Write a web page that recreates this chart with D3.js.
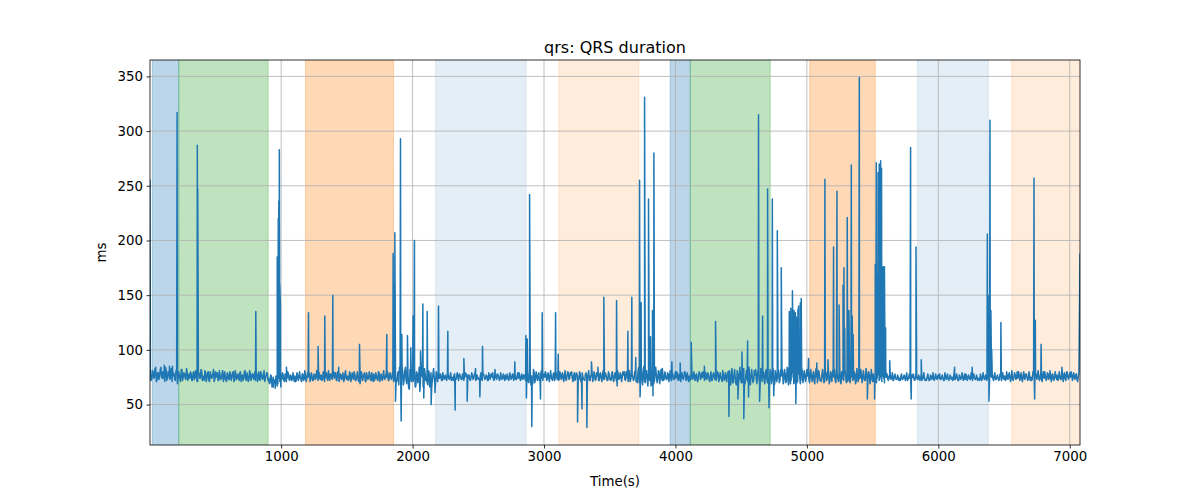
<!DOCTYPE html>
<html>
<head>
<meta charset="utf-8">
<script src="https://cdn.jsdelivr.net/npm/d3@7"></script>
<style>
  body { margin: 0; background: #fff; }
  text { font-family: "DejaVu Sans", sans-serif; }
</style>
</head>
<body>
<script>
let width = 1200, height = 500;
let margin = {left: 150, right: 120, top: 60, bottom: 55};

// baseline QRS values, one every 10 s starting at t = 5
let baseRows = [
  "78 73 80 75 82 72 79 76 84 74", "77 71 81 75 79 73 83 76 78 72",
  "80 74 77 71 82 75 78 73 79 76", "74 78 72 80 75 77 71 79 74 81",
  "76 72 79 74 80 71 77 75 82 73", "75 79 72 77 74 81 73 76 71 78",
  "73 77 75 80 72 78 74 76 79 71", "77 74 81 72 76 73 79 75 78 74",
  "72 78 75 73 80 74 77 71 76 79", "74 70 76 68 73 71 75 69 74 72",
  "73 77 71 75 74 78 72 76 73 75", "76 72 77 74 75 71 78 73 76 74",
  "75 78 73 76 72 77 74 79 73 75", "77 73 76 74 79 72 75 78 74 76",
  "74 79 72 76 73 77 75 71 78 74", "76 73 78 74 75 80 72 76 74 77",
  "73 77 75 79 71 76 74 78 72 75", "78 74 76 72 79 75 73 77 74 76",
  "75 72 78 74 76 71 79 73 77 68", "82 66 79 72 84 69 77 64 80 73",
  "71 83 67 78 74 62 81 75 70 79", "76 68 80 73 65 78 74 71 77 75",
  "74 77 72 76 75 73 78 74 76 72", "75 77 73 76 74 78 75 73 76 74",
  "76 74 77 73 75 76 74 78 73 75", "74 76 73 77 75 74 76 72 75 77",
  "75 73 76 74 78 75 73 76 74 75", "77 74 75 73 76 74 77 75 73 76",
  "74 76 73 75 77 74 72 78 70 81", "76 69 79 73 77 75 72 78 74 76",
  "75 78 73 77 74 76 72 79 74 77", "76 73 78 75 74 77 73 76 79 74",
  "77 74 76 72 79 75 73 78 74 76", "73 78 75 77 72 76 80 74 77 73",
  "76 72 78 74 77 73 79 75 72 78", "74 79 73 76 75 72 78 74 77 75",
  "77 73 80 74 76 71 79 75 73 78", "75 80 70 78 73 82 71 77 74 79",
  "72 81 74 69 79 76 73 80 75 74", "77 74 76 73 78 75 74 77 73 76",
  "74 78 75 72 77 74 76 79 73 75", "76 73 78 75 74 77 72 76 78 74",
  "75 77 73 76 79 74 75 72 77 76", "73 76 78 74 75 71 77 75 73 78",
  "76 72 79 70 77 74 68 78 73 76", "74 79 71 76 73 78 70 77 75 72",
  "77 73 80 74 71 78 75 72 79 74", "75 70 78 73 81 69 76 74 79 72",
  "76 80 72 78 71 82 74 69 79 75", "73 81 70 78 76 72 80 74 77 75",
  "76 73 78 74 77 72 79 75 74 77", "73 78 75 71 79 74 77 72 76 80",
  "75 72 79 74 77 71 80 73 78 75", "77 74 72 79 75 73 78 71 76 74",
  "74 78 73 76 72 79 75 77 73 76", "78 72 80 74 77 73 75 76 74 75",
  "75 73 76 74 75 72 76 74 73 75", "74 76 73 75 74 76 72 75 74 73",
  "75 73 74 76 73 75 74 72 75 74", "73 75 74 72 76 74 73 75 74 76",
  "74 73 75 74 72 75 76 73 74 75", "75 74 73 76 74 72 75 74 76 73",
  "73 76 74 75 73 74 77 74 73 75", "74 72 75 74 76 73 75 74 72 76",
  "75 74 76 73 75 74 73 76 74 75", "76 73 75 77 74 76 73 75 77 74",
  "74 77 75 73 76 74 78 75 73 76", "75 73 77 74 76 78 74 75 73 77",
  "74 76 73 78 75 74 77 73 76 75", "77 74 76 73 78 75 74 79 75 76",
  "75 78 74 76 77 73 75"
];

// second pass of the band, one every 10 s starting at t = 10
let baseRows2 = [
  "72 81 74 83 71 79 73 82 75 80", "73 84 72 80 74 82 71 79 73 81",
  "71 80 73 82 72 79 74 83 72 78", "80 72 79 73 81 71 78 74 82 72",
  "73 81 71 79 72 80 74 78 71 80", "79 72 81 73 78 71 80 72 79 73",
  "80 72 79 71 81 73 78 72 80 74", "72 80 73 79 71 81 72 78 73 80",
  "79 71 80 72 78 73 81 74 79 72", "69 77 66 75 70 76 67 74 71 78",
  "79 72 78 71 80 73 77 72 79 71", "71 79 72 80 73 78 72 81 71 79",
  "80 71 79 72 78 73 81 72 79 73", "72 80 71 79 73 81 72 78 73 80",
  "79 72 80 71 78 73 79 72 81 73", "72 80 71 79 73 78 72 80 71 79",
  "80 72 78 71 79 73 80 72 79 71", "72 79 73 80 71 78 72 81 73 79",
  "80 72 79 73 81 72 78 71 80 84", "70 85 68 80 73 86 65 82 71 79",
  "82 66 80 70 84 71 77 66 83 72", "70 81 66 79 72 83 68 80 71 79",
  "78 72 79 73 77 72 78 73 79 73", "72 78 73 79 72 77 73 78 72 79",
  "78 73 77 72 79 73 78 72 77 73", "73 79 72 78 73 77 72 79 73 78",
  "79 72 78 73 77 72 79 73 78 72", "73 78 72 79 73 78 72 77 73 79",
  "79 72 78 73 77 72 80 71 82 68", "72 82 70 80 72 79 73 81 72 78",
  "80 72 79 71 81 73 78 72 80 73", "72 80 73 79 71 81 72 80 73 79",
  "80 71 79 73 78 72 80 71 79 73", "72 79 73 81 72 78 71 80 72 79",
  "80 72 79 71 81 73 78 72 80 73", "72 80 71 79 72 81 73 79 71 80",
  "80 72 79 71 81 73 78 72 80 71", "70 84 69 82 68 85 70 81 67 83",
  "82 68 83 71 84 70 81 69 82 72", "72 80 73 79 71 81 72 78 73 80",
  "80 72 78 71 79 73 80 72 79 71", "72 79 73 80 72 78 71 80 73 79",
  "80 72 79 73 78 71 80 72 79 73", "72 80 71 79 73 81 72 79 71 80",
  "81 68 83 70 82 69 81 71 84 70", "70 83 69 81 71 84 68 82 70 81",
  "82 69 81 70 83 71 80 69 82 70", "70 82 69 84 68 81 71 83 70 82",
  "83 69 82 70 84 68 81 72 83 69", "70 83 71 82 69 84 70 81 71 82",
  "81 70 82 71 80 69 83 70 81 72", "71 82 70 81 72 83 69 80 71 82",
  "82 70 81 71 83 69 80 72 82 70", "71 81 70 82 72 80 69 83 71 81",
  "82 70 81 72 83 71 80 69 82 71", "71 82 70 80 72 83 71 81 70 82",
  "78 72 77 73 79 72 78 73 77 72", "72 78 73 77 72 79 73 78 72 77",
  "78 72 79 73 77 72 78 73 79 72", "72 78 72 77 73 79 72 78 73 77",
  "78 73 77 72 79 73 78 72 77 73", "72 79 73 78 72 77 73 79 72 78",
  "78 72 77 73 79 72 78 73 77 72", "73 78 72 79 73 77 72 78 73 79",
  "78 72 79 73 77 72 78 72 79 73", "72 80 73 79 71 81 72 79 73 80",
  "80 72 79 71 80 73 78 72 80 72", "72 80 71 79 73 81 72 79 71 80",
  "80 72 79 73 81 71 78 72 80 73", "72 80 73 81 71 79 72 80 73 79",
  "80 72 79 73 78 71 80"
];

// isolated beats: [time (s), QRS (ms)]
let spikes = [
  [2, 256], [45, 84], [110, 86], [150, 85], [173, 85],
  [208, 317], [211, 69], [362, 287], [365, 247], [368, 155],
  [807, 135], [940, 66], [955, 65],
  [970, 185], [974, 150], [978, 220], [982, 236], [986, 283], [990, 160], [994, 140], [998, 66],
  [1040, 84], [1208, 134], [1281, 103], [1332, 131], [1393, 150], [1438, 84],
  [1596, 105], [1600, 69], [1804, 114],
  [1852, 188], [1858, 160], [1865, 207], [1870, 53],
  [1908, 293], [1913, 35], [1918, 114], [1961, 113], [1986, 102],
  [2004, 131], [2014, 200], [2060, 99], [2078, 142], [2085, 56],
  [2111, 135], [2141, 50], [2170, 61], [2197, 140], [2268, 117],
  [2324, 45], [2390, 92], [2415, 53], [2479, 83], [2512, 57], [2532, 103],
  [2627, 82], [2778, 89], [2862, 113], [2866, 56], [2872, 110],
  [2890, 242], [2907, 30], [2973, 55], [2986, 134],
  [3088, 134], [3108, 96], [3255, 34], [3289, 46], [3326, 29],
  [3361, 89], [3410, 84], [3455, 148], [3552, 145], [3556, 67],
  [3638, 117], [3668, 148], [3698, 93], [3727, 255], [3731, 57],
  [3739, 143], [3765, 331], [3795, 238], [3810, 112], [3814, 67],
  [3825, 136], [3829, 58], [3836, 280], [3900, 83], [3973, 89],
  [4036, 88], [4120, 107], [4220, 85], [4305, 126], [4407, 39],
  [4475, 55], [4506, 98], [4520, 37], [4549, 108], [4556, 57],
  [4632, 315], [4640, 53], [4663, 131], [4701, 247], [4712, 47],
  [4737, 238], [4748, 58], [4775, 209], [4805, 175],
  [4866, 135], [4872, 100], [4878, 138], [4884, 95], [4890, 154], [4896, 105],
  [4902, 136], [4908, 90], [4912, 134], [4916, 51], [4920, 130], [4926, 98],
  [4932, 137], [4937, 140], [4944, 100], [4950, 143], [4957, 147],
  [5013, 92], [5075, 88], [5137, 256], [5160, 91], [5203, 194],
  [5229, 245], [5245, 141], [5275, 159], [5282, 175], [5288, 120],
  [5307, 221], [5320, 136], [5338, 269], [5345, 131], [5352, 114],
  [5399, 349], [5460, 55], [5515, 55],
  [5520, 178], [5524, 120], [5528, 271], [5533, 110], [5536, 168], [5542, 262],
  [5546, 105], [5550, 270], [5556, 150], [5561, 273], [5564, 100], [5568, 266],
  [5574, 130], [5580, 176], [5585, 95], [5590, 176], [5599, 120],
  [5630, 90], [5789, 285], [5794, 55], [5830, 194], [5870, 91],
  [6124, 84], [6258, 84],
  [6373, 206], [6379, 150], [6385, 53], [6393, 310], [6400, 136], [6406, 100],
  [6476, 125], [6728, 257], [6733, 55], [6738, 127], [6782, 105],
  [6940, 84], [7078, 188]
];

// shaded periods: [start, end, colour, opacity]
let periods = [
  [20, 221, "#1f77b4", 0.3],
  [221, 901, "#2ca02c", 0.3],
  [1185, 1855, "#ff7f0e", 0.3],
  [2175, 2864, "#1f77b4", 0.12],
  [3113, 3721, "#ff7f0e", 0.15],
  [3960, 4113, "#1f77b4", 0.3],
  [4113, 4721, "#2ca02c", 0.3],
  [5021, 5520, "#ff7f0e", 0.3],
  [5842, 6380, "#1f77b4", 0.12],
  [6558, 7200, "#ff7f0e", 0.15]
];

let xTicks = [1000, 2000, 3000, 4000, 5000, 6000, 7000];
let yTicks = [50, 100, 150, 200, 250, 300, 350];

// merge both baseline passes and the beats into one series
let base1 = baseRows.join(" ").split(" ").map(Number);
let base2 = baseRows2.join(" ").split(" ").map(Number);
let series = base1.map((v, i) => ({t: 5 + 10 * i, v: v}))
    .concat(base2.map((v, i) => ({t: 10 + 10 * i, v: v})))
    .concat(spikes.map(d => ({t: d[0], v: d[1]})));
series.sort((a, b) => a.t - b.t);

let iw = width - margin.left - margin.right,
    ih = height - margin.top - margin.bottom;

let x = d3.scaleLinear().domain(d3.extent(series, d => d.t)).range([0, iw]);
let vmin = d3.min(series, d => d.v), vmax = d3.max(series, d => d.v);
let pad = (vmax - vmin) * 0.05;
let y = d3.scaleLinear().domain([vmin - pad, vmax + pad]).range([ih, 0]);

let svg = d3.select("body").append("svg")
    .attr("width", width)
    .attr("height", height);

svg.append("defs").append("clipPath").attr("id", "clip")
    .append("rect").attr("width", iw).attr("height", ih);

let g = svg.append("g").attr("transform", `translate(${margin.left},${margin.top})`);

g.append("g").attr("clip-path", "url(#clip)")
    .selectAll("rect").data(periods).enter().append("rect")
    .attr("x", d => x(d[0]))
    .attr("width", d => x(d[1]) - x(d[0]))
    .attr("y", -5)
    .attr("height", ih + 10)
    .attr("fill", d => d[2])
    .attr("fill-opacity", d => d[3])
    .attr("stroke", d => d[2])
    .attr("stroke-opacity", d => d[3])
    .attr("stroke-width", 1);

// grid
g.append("g").selectAll("line.gx").data(xTicks).enter().append("line")
    .attr("x1", d => x(d)).attr("x2", d => x(d))
    .attr("y1", 0).attr("y2", ih)
    .attr("stroke", "#b0b0b0").attr("stroke-width", 0.8);
g.append("g").selectAll("line.gy").data(yTicks).enter().append("line")
    .attr("y1", d => y(d)).attr("y2", d => y(d))
    .attr("x1", 0).attr("x2", iw)
    .attr("stroke", "#b0b0b0").attr("stroke-width", 0.8);

let line = d3.line().x(d => x(d.t)).y(d => y(d.v));
g.append("path")
    .datum(series)
    .attr("clip-path", "url(#clip)")
    .attr("fill", "none")
    .attr("stroke", "#1f77b4")
    .attr("stroke-width", 1.5)
    .attr("stroke-linejoin", "round")
    .attr("d", line);

// axes
let xAxis = g.append("g").attr("transform", `translate(0,${ih})`)
    .call(d3.axisBottom(x).tickValues(xTicks).tickSize(3.5).tickPadding(3.5).tickFormat(d3.format("d")));
let yAxis = g.append("g")
    .call(d3.axisLeft(y).tickValues(yTicks).tickSize(3.5).tickPadding(3.5));
[xAxis, yAxis].forEach(a => {
    a.select(".domain").remove();
    a.selectAll("line").attr("stroke", "#000").attr("stroke-width", 0.8);
    a.selectAll("text").attr("font-size", "13.33px").attr("fill", "#000")
        .attr("font-family", "DejaVu Sans");
});

g.append("rect").attr("width", iw).attr("height", ih)
    .attr("fill", "none").attr("stroke", "#000").attr("stroke-width", 0.8);

g.append("text").attr("x", iw / 2).attr("y", -7)
    .attr("text-anchor", "middle").attr("font-size", "16px")
    .text("qrs: QRS duration");
g.append("text").attr("x", iw / 2).attr("y", ih + 41)
    .attr("text-anchor", "middle").attr("font-size", "13.33px")
    .text("Time(s)");
g.append("text")
    .attr("transform", `translate(${-44},${ih / 2}) rotate(-90)`)
    .attr("text-anchor", "middle").attr("font-size", "13.33px")
    .text("ms");
</script>
</body>
</html>
